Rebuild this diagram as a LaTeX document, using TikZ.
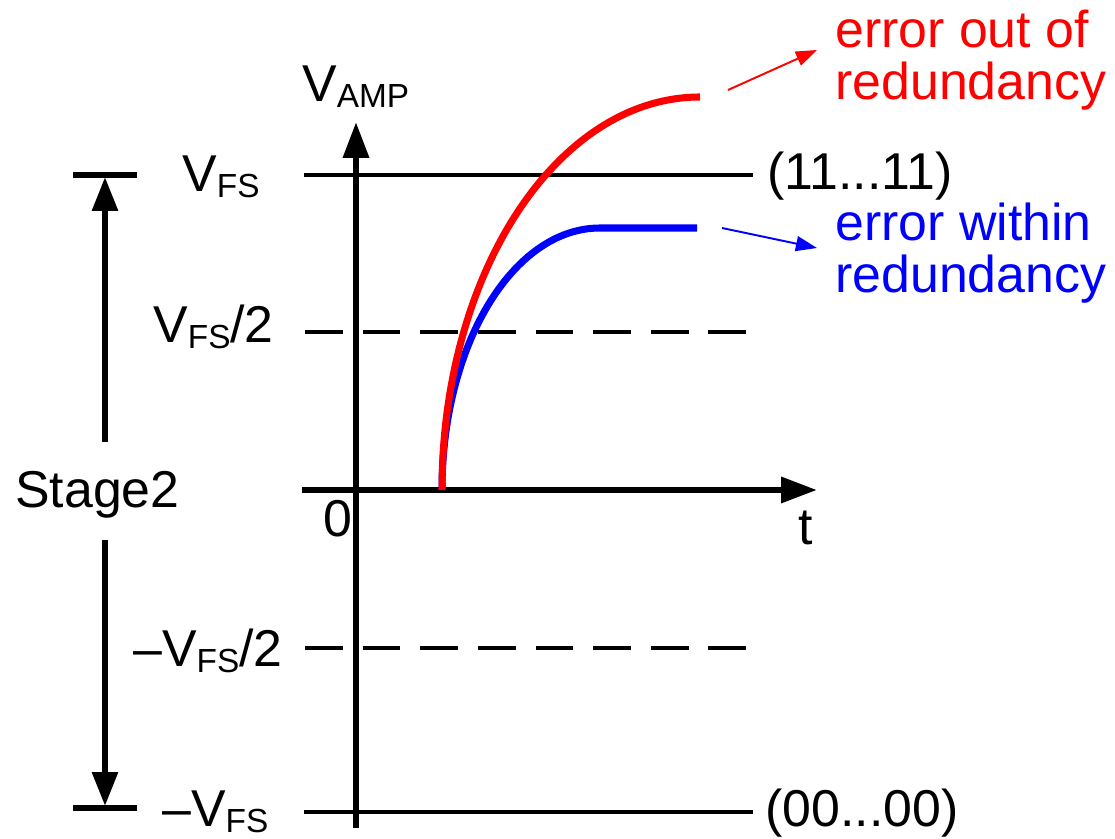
\documentclass[tikz,border=0pt]{standalone}
\usepackage{fontspec}
\setmainfont{Liberation Sans}
\usetikzlibrary{arrows.meta}
\definecolor{errRed}{HTML}{FF0000}
\definecolor{errBlue}{HTML}{0000FF}
\newcommand{\subtxt}[1]{\raisebox{-3.4pt}{\fontsize{19}{19}\selectfont #1}}
\tikzset{
  axisArrow/.style={-{Triangle[length=20.4pt, width=14.2pt]}, line width=3.6pt},
  rangeArrow/.style={-{Triangle[length=19.3pt, width=14.2pt]}, line width=3.4pt},
  barLine/.style={line width=3.8pt},
  levelLine/.style={line width=2.6pt},
  halfLine/.style={line width=2.6pt, dash pattern=on 21.5pt off 11.3pt},
  curveRed/.style={errRed, line width=4pt},
  curveBlue/.style={errBlue, line width=4pt},
  noteArrow/.style={-{Triangle[length=12pt, width=8.5pt]}, line width=1.1pt},
  lbl/.style={anchor=base west, inner sep=0pt, font=\fontsize{29.5}{30}\selectfont},
}

\begin{document}
\begin{tikzpicture}[x=0.02cm, y=0.02cm]
  \useasboundingbox (0,0) rectangle (1115,838);

  % levels
  \coordinate (fsL) at (304,663);    \coordinate (fsR) at (753,663);
  \coordinate (halfL) at (305,506);  \coordinate (halfR) at (753,506);
  \coordinate (nhalfL) at (305,190); \coordinate (nhalfR) at (753,190);
  \coordinate (nfsL) at (304,26);    \coordinate (nfsR) at (753,26);
  \draw[levelLine] (fsL) -- (fsR);
  \draw[halfLine] (halfL) -- (halfR);
  \draw[halfLine] (nhalfL) -- (nhalfR);
  \draw[levelLine] (nfsL) -- (nfsR);

  % axes
  \coordinate (yBot) at (356,10);  \coordinate (yTop) at (356,716);
  \coordinate (xLeft) at (302,348); \coordinate (xRight) at (817,348);
  \draw[axisArrow] (yBot) -- (yTop);
  \draw[axisArrow] (xLeft) -- (xRight);

  % stage range
  \coordinate (stTop) at (105,661); \coordinate (stBot) at (105,32);
  \draw[barLine] (73,663) -- (137,663);
  \draw[barLine] (73,30) -- (137,30);
  \draw[rangeArrow] (105,396) -- (stTop);
  \draw[rangeArrow] (105,298) -- (stBot);

  % settling curves
  \coordinate (start) at (442,348);
  \draw[curveBlue] (start) arc[start angle=180, end angle=90, x radius=158, y radius=262]
    -- (697,610) coordinate (blueEnd);
  \draw[curveRed] (start) arc[start angle=180, end angle=90, x radius=258, y radius=393]
    coordinate (redEnd);

  % labels
  \node[lbl] (vamp) at (302,736) {V\subtxt{AMP}};
  \node[lbl] (vfs) at (182,646) {V\subtxt{FS}};
  \node[lbl] (vfsHalf) at (153,495) {V\subtxt{FS}/2};
  \node[lbl] (stage) at (15,330) {Stage2};
  \node[lbl] (zero) at (323,301) {0};
  \node[lbl] (negHalf) at (133,171) {--V\subtxt{FS}/2};
  \node[lbl] (negFs) at (162,11) {--V\subtxt{FS}};
  \node[lbl] (tLbl) at (798,293) {t};
  \node[lbl] (ones) at (767,648) {(11...11)};
  \node[lbl] (zeros) at (765,11) {(00...00)};
  \node[lbl, errRed, align=left] (outNote) at (835,738) {error out of\\redundancy};
  \node[lbl, errBlue, align=left] (inNote) at (835,545) {error within\\redundancy};

  % pointers
  \coordinate (outFrom) at (728,748); \coordinate (outTo) at (817,788);
  \coordinate (inFrom) at (722,610);  \coordinate (inTo) at (817,590);
  \draw[noteArrow, errRed] (outFrom) -- (outTo);
  \draw[noteArrow, errBlue] (inFrom) -- (inTo);
\end{tikzpicture}
\end{document}
